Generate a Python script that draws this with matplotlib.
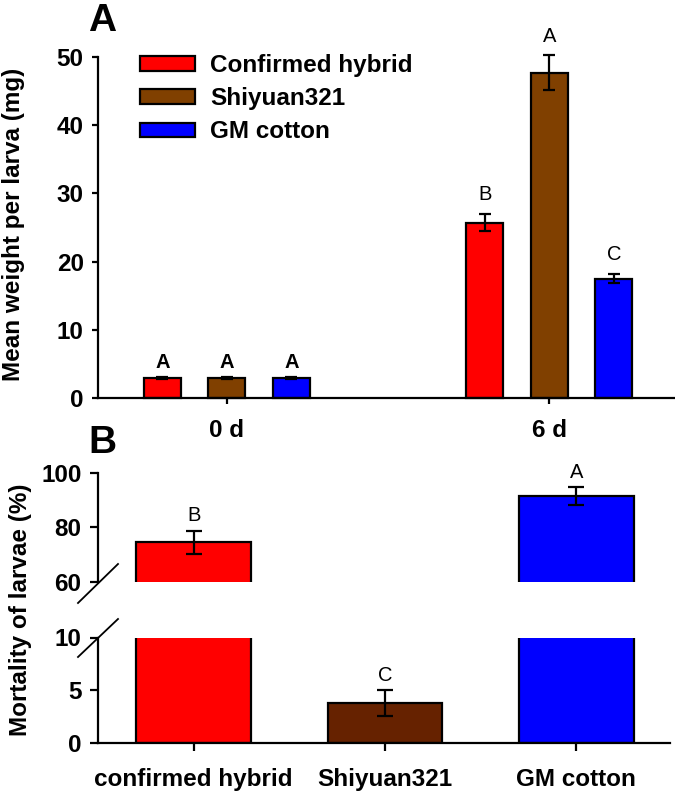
import matplotlib
matplotlib.use("Agg")
import matplotlib.pyplot as plt
import numpy as np
from matplotlib.patches import Patch
from matplotlib.lines import Line2D

plt.rcParams['font.family'] = ['Liberation Sans', 'DejaVu Sans']
plt.rcParams['font.weight'] = 'bold'

# ---- data ----
series_names = ["Confirmed hybrid", "Shiyuan321", "GM cotton"]
days = ["0 d", "6 d"]
weight_0d = [3.0, 3.0, 3.0]
weight_0d_err = [0.15, 0.15, 0.15]
weight_6d = [25.7, 47.7, 17.5]
weight_6d_err = [1.25, 2.55, 0.7]
letters_0d = ["A", "A", "A"]
letters_6d = ["B", "A", "C"]

mort_cats = ["confirmed hybrid", "Shiyuan321", "GM cotton"]
mortality = [74.5, 3.8, 91.5]
mortality_err = [4.3, 1.2, 3.2]
mort_letters = ["B", "C", "A"]

colors_a = ["#FF0000", "#804000", "#0000FF"]
colors_b = ["#FF0000", "#662200", "#0000FF"]

W, H = 675, 791
fig = plt.figure(figsize=(W / 100, H / 100), dpi=100)

def fr(x0, y0, x1, y1):
    # pixel box -> figure fraction [left, bottom, width, height]
    return [x0 / W, 1 - y1 / H, (x1 - x0) / W, (y1 - y0) / H]

FS = 17.5
LW = 1.6

# ---------------- Panel A ----------------
axA = fig.add_axes(fr(98, 57, 675, 398))
x = np.arange(len(days))
bw = 0.115
off = 0.2
vals = np.array([weight_0d, weight_6d])
errs = np.array([weight_0d_err, weight_6d_err])
lets = [letters_0d, letters_6d]
for i in range(3):
    axA.bar(x + (i - 1) * off, vals[:, i], bw, color=colors_a[i],
            edgecolor='black', linewidth=LW, zorder=2, clip_on=False)
    axA.errorbar(x + (i - 1) * off, vals[:, i], yerr=errs[:, i], fmt='none',
                 ecolor='black', elinewidth=LW, capsize=4.3, capthick=LW,
                 zorder=3, clip_on=False)
    for g in range(len(days)):
        top = vals[g, i] + errs[g, i]
        dy = 3 if g == 0 else 7
        axA.annotate(lets[g][i], (x[g] + (i - 1) * off, top), xytext=(0, dy),
                     textcoords='offset points', ha='center', va='bottom',
                     fontsize=14.5, annotation_clip=False,
                     fontweight='bold' if g == 0 else 'normal')
axA.set_xlim(-0.40, 0.39 + 1)
axA.set_ylim(0, 50)
axA.set_yticks([0, 10, 20, 30, 40, 50])
axA.set_xticks(x)
axA.set_xticklabels(days)
for s in ['top', 'right']:
    axA.spines[s].set_visible(False)
for s in ['left', 'bottom']:
    axA.spines[s].set_linewidth(LW)
axA.tick_params(axis='both', direction='out', length=4.3, width=LW,
                labelsize=FS)
axA.tick_params(axis='x', pad=11)
axA.tick_params(axis='y', pad=6)

fig.text(14 / W, 1 - 224 / H, "Mean weight per larva (mg)", rotation=90,
         fontsize=FS, fontweight='bold', ha='center', va='center')

handles = [Patch(facecolor=c, edgecolor='black', linewidth=LW) for c in colors_a]
leg = axA.legend(handles, series_names, loc='upper left',
                 bbox_to_anchor=(140 / W, 1 - 54 / H),
                 bbox_transform=fig.transFigure, frameon=False,
                 fontsize=FS, handlelength=2.26, handleheight=0.53,
                 handletextpad=0.62, labelspacing=0.42, borderpad=0,
                 borderaxespad=0)

fig.text(88 / W, 1 - 31 / H, "A", fontsize=28, fontweight='bold',
         ha='left', va='baseline')

# ---------------- Panel B ----------------
axU = fig.add_axes(fr(98, 473, 670, 582))
axL = fig.add_axes(fr(98, 637.5, 670, 743))
xb = np.arange(len(mort_cats))
for ax in (axU, axL):
    ax.bar(xb, mortality, 0.6, color=colors_b, edgecolor='black',
           linewidth=LW, zorder=2)
    ax.errorbar(xb, mortality, yerr=mortality_err, fmt='none', ecolor='black',
                elinewidth=LW, capsize=6, capthick=LW, zorder=3)
    ax.set_xlim(-0.5, 2.49)
    for s in ['top', 'right']:
        ax.spines[s].set_visible(False)
    ax.spines['left'].set_linewidth(LW)
    ax.spines['bottom'].set_linewidth(LW)
    ax.tick_params(axis='both', direction='out', length=5.8, width=LW,
                   labelsize=FS)
    ax.tick_params(axis='y', pad=6)
axU.set_ylim(60, 100)
axU.set_yticks([60, 80, 100])
axU.spines['bottom'].set_visible(False)
axU.tick_params(axis='x', bottom=False, labelbottom=False)
axL.set_ylim(0, 10)
axL.set_yticks([0, 5, 10])
axL.set_xticks(xb)
axL.set_xticklabels(mort_cats)
axL.tick_params(axis='x', pad=12)

for i in range(3):
    top = mortality[i] + mortality_err[i]
    ax = axL if top < 10 else axU
    ax.annotate(mort_letters[i], (xb[i], top), xytext=(0, 4),
                textcoords='offset points', ha='center', va='bottom',
                fontsize=14.5, fontweight='normal')

fig.text(21 / W, 1 - 610 / H, "Mortality of larvae (%)", rotation=90,
         fontsize=FS, fontweight='bold', ha='center', va='center')
fig.text(88 / W, 1 - 453 / H, "B", fontsize=28, fontweight='bold',
         ha='left', va='baseline')

# break marks
for (x0, y0, x1, y1) in [(78, 603, 118, 564), (78, 657, 118, 619)]:
    fig.add_artist(Line2D([x0 / W, x1 / W], [1 - y0 / H, 1 - y1 / H],
                          color='black', linewidth=1.3,
                          transform=fig.transFigure))

fig.savefig("out.png", dpi=100)
